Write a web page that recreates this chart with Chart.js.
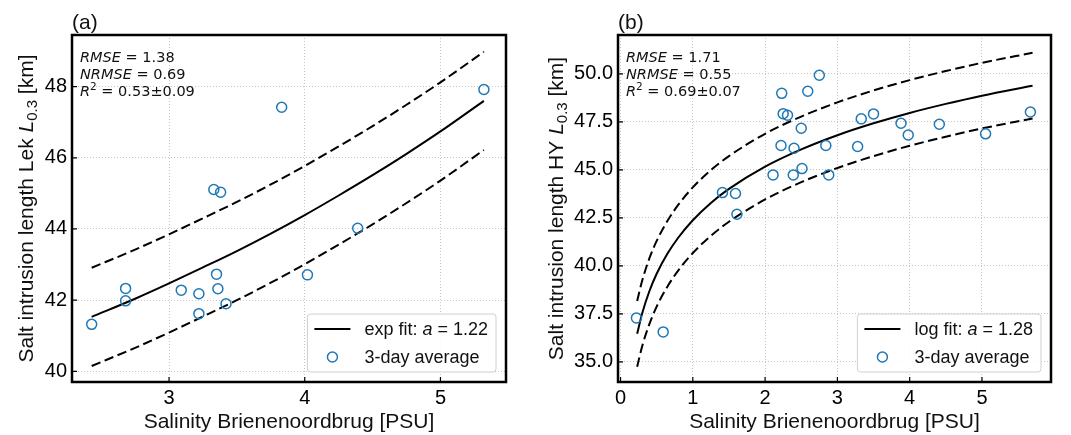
<!DOCTYPE html>
<html>
<head>
<meta charset="utf-8">
<script src="https://cdn.jsdelivr.net/npm/chart.js@4.4.0/dist/chart.umd.min.js"></script>
<style>
  html, body { margin: 0; padding: 0; background: #fff; }
  #wrap { position: relative; width: 1071px; height: 435px; }
  #chartA { position: absolute; left: 0; top: 0; }
  #chartB { position: absolute; left: 535px; top: 0; }
</style>
</head>
<body>
<div id="wrap">
  <canvas id="chartA" width="535" height="435"></canvas>
  <canvas id="chartB" width="536" height="435"></canvas>
</div>
<script>
// ---- panel (a): Lek, exp fit ----
const salA = [2.43, 2.68, 2.68, 3.09, 3.22, 3.22, 3.35, 3.36, 3.42, 3.33, 3.38, 3.83, 4.02, 4.39, 5.32];
const lenA = [41.32, 42.33, 41.98, 42.28, 42.18, 41.62, 42.73, 42.32, 41.90, 45.11, 45.03, 47.42, 42.71, 44.02, 47.92];
const fitXA = [2.43, 2.75, 3.0, 3.25, 3.5, 3.75, 4.0, 4.25, 4.5, 4.75, 5.0, 5.32];
const fitA = [41.53, 42.04, 42.47, 42.92, 43.38, 43.87, 44.39, 44.94, 45.51, 46.11, 46.74, 47.60];
const upperA = [42.91, 43.42, 43.85, 44.30, 44.76, 45.25, 45.77, 46.32, 46.89, 47.49, 48.12, 48.98];
const lowerA = [40.15, 40.66, 41.09, 41.54, 42.00, 42.49, 43.01, 43.56, 44.13, 44.73, 45.36, 46.22];
const xTicksA = [3, 4, 5];
const yTicksA = [40, 42, 44, 46, 48];

// ---- panel (b): HY, log fit ----
const salB = [0.22, 0.59, 1.41, 1.59, 1.61, 2.11, 2.23, 2.25, 2.31, 2.22, 2.40, 2.39, 2.50, 2.51, 2.59, 2.75, 2.84, 2.88, 3.28, 3.33, 3.50, 3.88, 3.98, 4.41, 5.05, 5.67];
const lenB = [37.29, 36.56, 43.82, 43.77, 42.69, 44.74, 48.99, 47.93, 47.85, 46.27, 46.13, 44.74, 47.17, 45.07, 49.10, 49.93, 46.27, 44.74, 46.22, 47.66, 47.92, 47.43, 46.82, 47.38, 46.88, 48.02];
const fitXB = [0.23, 0.3, 0.4, 0.5, 0.65, 0.8, 1.0, 1.25, 1.5, 2.0, 2.5, 3.0, 3.5, 4.0, 4.5, 5.0, 5.7];
const fitB = [36.46, 37.53, 38.69, 39.59, 40.64, 41.48, 42.38, 43.28, 44.01, 45.17, 46.07, 46.81, 47.43, 47.97, 48.44, 48.87, 49.39];
const upperB = [38.17, 39.24, 40.40, 41.30, 42.35, 43.19, 44.09, 44.99, 45.72, 46.88, 47.78, 48.52, 49.14, 49.68, 50.15, 50.58, 51.10];
const lowerB = [34.75, 35.82, 36.98, 37.88, 38.93, 39.77, 40.67, 41.57, 42.30, 43.46, 44.36, 45.10, 45.72, 46.26, 46.73, 47.16, 47.68];
const xTicksB = [0, 1, 2, 3, 4, 5];
const yTicksB = [35, 37.5, 40, 42.5, 45, 47.5, 50];

const SANS = '"Liberation Sans", Arial, sans-serif';
const DJ = '"DejaVu Sans", sans-serif';
const BLUE = '#1f77b4';

Chart.defaults.font.family = SANS;
Chart.defaults.color = '#000';

function pts(xs, ys) {
  return xs.map((x, i) => ({ x: x, y: ys[i] }));
}

// draw a run of text pieces: [text, font, dy]
function richWidth(ctx, parts) {
  let w = 0;
  for (const p of parts) { ctx.font = p[1]; w += ctx.measureText(p[0]).width; }
  return w;
}
function richText(ctx, parts, x, y) {
  let cx = x;
  for (const p of parts) {
    ctx.font = p[1];
    ctx.fillText(p[0], cx, y + (p[2] || 0));
    cx += ctx.measureText(p[0]).width;
  }
}

function decor(cfg) {
  return {
    id: 'decor',
    afterDraw(chart) {
      const ctx = chart.ctx, a = chart.chartArea;
      const xs = chart.scales.x, ys = chart.scales.y;
      ctx.save();
      ctx.fillStyle = '#111';
      ctx.textBaseline = 'alphabetic';

      // inward ticks on bottom and left
      ctx.strokeStyle = '#000';
      ctx.lineWidth = 1.2;
      ctx.beginPath();
      xs.ticks.forEach(t => {
        const px = xs.getPixelForValue(t.value);
        ctx.moveTo(px, a.bottom); ctx.lineTo(px, a.bottom - 5);
      });
      ys.ticks.forEach(t => {
        const py = ys.getPixelForValue(t.value);
        ctx.moveTo(a.left, py); ctx.lineTo(a.left + 5, py);
      });
      ctx.stroke();

      // frame
      ctx.lineWidth = 2.5;
      ctx.strokeRect(a.left, a.top, a.right - a.left, a.bottom - a.top);

      // panel label
      ctx.font = '21px ' + SANS;
      ctx.fillText(cfg.label, a.left, 29);

      // y axis title, rotated
      const f21 = '21px ' + SANS;
      const yParts = [[cfg.yTitle, f21], ['L', 'italic ' + f21], ['0.3', '15px ' + SANS, 4], [' [km]', f21]];
      ctx.save();
      ctx.translate(cfg.yTitleX, (a.top + a.bottom) / 2);
      ctx.rotate(-Math.PI / 2);
      richText(ctx, yParts, -richWidth(ctx, yParts) / 2, 0);
      ctx.restore();

      // statistics
      const it = 'italic 14.5px ' + DJ, rg = '14.5px ' + DJ;
      richText(ctx, [['RMSE', it], [' = ' + cfg.rmse, rg]], a.left + 8, a.top + 27);
      richText(ctx, [['NRMSE', it], [' = ' + cfg.nrmse, rg]], a.left + 8, a.top + 44);
      richText(ctx, [['R', it], ['2', '10.5px ' + DJ, -6], [' = ' + cfg.r2, rg]], a.left + 8, a.top + 61);

      // legend
      const f18 = '18px ' + SANS;
      const lParts = [[cfg.fitName + ': ', f18], ['a', 'italic ' + f18], [' = ' + cfg.a, f18]];
      const tw = Math.max(richWidth(ctx, lParts), richWidth(ctx, [['3-day average', f18]]));
      const bw = 57 + tw + 8, bh = 58;
      const bx = a.right - 10 - bw, by = a.bottom - 10 - bh;
      const r = 3;
      ctx.beginPath();
      ctx.moveTo(bx + r, by);
      ctx.lineTo(bx + bw - r, by); ctx.arcTo(bx + bw, by, bx + bw, by + r, r);
      ctx.lineTo(bx + bw, by + bh - r); ctx.arcTo(bx + bw, by + bh, bx + bw - r, by + bh, r);
      ctx.lineTo(bx + r, by + bh); ctx.arcTo(bx, by + bh, bx, by + bh - r, r);
      ctx.lineTo(bx, by + r); ctx.arcTo(bx, by, bx + r, by, r);
      ctx.closePath();
      ctx.fillStyle = 'rgba(255,255,255,0.85)';
      ctx.fill();
      ctx.strokeStyle = '#d0d0d0';
      ctx.lineWidth = 1;
      ctx.stroke();

      ctx.strokeStyle = '#000';
      ctx.lineWidth = 2;
      ctx.beginPath();
      ctx.moveTo(bx + 7, by + 15); ctx.lineTo(bx + 43, by + 15);
      ctx.stroke();
      ctx.strokeStyle = BLUE;
      ctx.lineWidth = 1.5;
      ctx.beginPath();
      ctx.arc(bx + 25, by + 43, 5, 0, Math.PI * 2);
      ctx.stroke();

      ctx.fillStyle = '#111';
      richText(ctx, lParts, bx + 57, by + 21);
      richText(ctx, [['3-day average', f18]], bx + 57, by + 49);

      ctx.restore();
    }
  };
}

function makeChart(id, d) {
  const lineDs = (ys, dash) => ({
    data: pts(d.fitX, ys),
    showLine: true,
    borderColor: '#000',
    borderWidth: 2,
    borderDash: dash,
    pointRadius: 0,
    cubicInterpolationMode: 'monotone',
    fill: false
  });
  const gridOpts = { color: '#b8b8b8', lineWidth: 0.8, drawTicks: false };
  return new Chart(document.getElementById(id).getContext('2d'), {
    type: 'scatter',
    data: {
      datasets: [
        {
          data: pts(d.sal, d.len),
          pointRadius: 5,
          pointBorderWidth: 1.5,
          pointBorderColor: BLUE,
          pointBackgroundColor: 'rgba(0,0,0,0)',
          showLine: false
        },
        lineDs(d.fit, []),
        lineDs(d.upper, [9.5, 4.5]),
        lineDs(d.lower, [9.5, 4.5])
      ]
    },
    options: {
      responsive: false,
      animation: false,
      layout: { padding: { left: 0, top: 35, right: d.padRight, bottom: 0 } },
      plugins: { legend: { display: false }, tooltip: { enabled: false } },
      scales: {
        x: {
          type: 'linear',
          min: d.xMin, max: d.xMax,
          afterBuildTicks: s => { s.ticks = d.xTicks.map(v => ({ value: v })); },
          afterFit: s => { s.height = 53; },
          ticks: { font: { size: 20 }, padding: 4, maxRotation: 0, autoSkip: false, color: '#000' },
          grid: gridOpts,
          border: { display: false, dash: [1, 2] },
          title: { display: true, text: 'Salinity Brienenoordbrug [PSU]', font: { size: 21 }, color: '#111', padding: { top: 0, bottom: 0 } }
        },
        y: {
          type: 'linear',
          min: d.yMin, max: d.yMax,
          afterBuildTicks: s => { s.ticks = d.yTicks.map(v => ({ value: v })); },
          afterFit: s => { s.width = d.yWidth; },
          ticks: { font: { size: 20 }, padding: 5, autoSkip: false, color: '#000', callback: d.yFmt },
          grid: gridOpts,
          border: { display: false, dash: [1, 2] }
        }
      }
    },
    plugins: [decor(d.decor)]
  });
}

makeChart('chartA', {
  sal: salA, len: lenA, fitX: fitXA, fit: fitA, upper: upperA, lower: lowerA,
  xMin: 2.285, xMax: 5.483, yMin: 39.7, yMax: 49.45,
  xTicks: xTicksA, yTicks: yTicksA, yFmt: v => String(v),
  yWidth: 72, padRight: 29,
  decor: { label: '(a)', yTitle: 'Salt intrusion length Lek ', yTitleX: 33,
           rmse: '1.38', nrmse: '0.69', r2: '0.53±0.09', fitName: 'exp fit', a: '1.22' }
});

makeChart('chartB', {
  sal: salB, len: lenB, fitX: fitXB, fit: fitB, upper: upperB, lower: lowerB,
  xMin: -0.035, xMax: 5.955, yMin: 33.95, yMax: 52.03,
  xTicks: xTicksB, yTicks: yTicksB, yFmt: v => v.toFixed(1),
  yWidth: 83, padRight: 20,
  decor: { label: '(b)', yTitle: 'Salt intrusion length HY ', yTitleX: 28,
           rmse: '1.71', nrmse: '0.55', r2: '0.69±0.07', fitName: 'log fit', a: '1.28' }
});
</script>
</body>
</html>
